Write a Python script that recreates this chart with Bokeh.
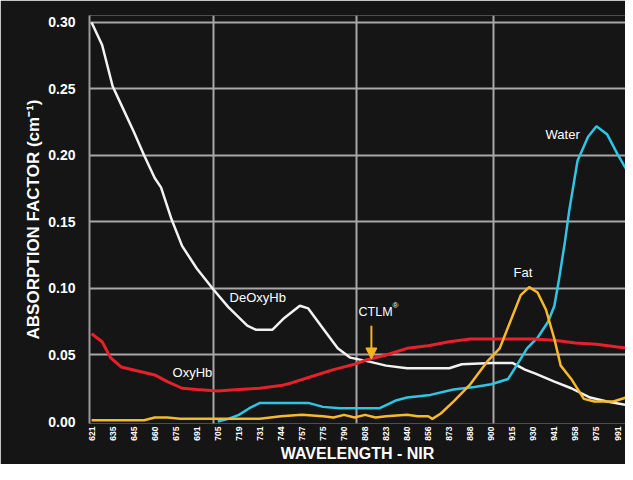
import numpy as np
from bokeh.plotting import figure
from bokeh.models import FixedTicker, Range1d, Arrow, NormalHead
from bokeh.core.properties import value
from bokeh.embed import file_html
from bokeh.resources import INLINE

# ---- axis categories (wavelength labels, evenly spaced on the axis) ----
tick_labels = ["621", "635", "645", "660", "675", "691", "705", "719", "731",
               "744", "757", "775", "790", "808", "823", "840", "856", "873",
               "888", "900", "915", "930", "941", "958", "975", "991"]
tick_pos = list(range(len(tick_labels)))
vgrid_pos = [5.8, 12.6, 19.1]
y_ticks = [0.0, 0.05, 0.10, 0.15, 0.20, 0.25, 0.30]

# ---- series (x in axis-label position units, y = absorption factor) ----
deoxy_pos = [0, 0.5, 1.0, 1.5, 2.0, 2.5, 3.0, 3.3, 3.8, 4.3, 5.0, 5.8, 6.5, 7.4,
             7.8, 8.6, 9.1, 9.9, 10.3, 11.0, 11.7, 12.3, 13.2, 14.0, 15.0, 16.0,
             17.0, 17.6, 19.0, 20.0, 20.6, 21.1, 22.0, 22.8, 23.7, 24.5, 25.6]
deoxy_val = [0.300, 0.283, 0.252, 0.235, 0.218, 0.200, 0.183, 0.176, 0.152,
             0.132, 0.115, 0.099, 0.086, 0.072, 0.069, 0.069, 0.077, 0.087,
             0.085, 0.070, 0.055, 0.048, 0.045, 0.042, 0.040, 0.040, 0.040,
             0.043, 0.044, 0.044, 0.039, 0.036, 0.030, 0.025, 0.018, 0.015,
             0.012]

oxy_pos = [0, 0.5, 0.9, 1.4, 2.2, 3.0, 3.6, 4.3, 5.0, 6.0, 7.0, 8.0, 9.0, 9.5,
           10.5, 11.5, 12.5, 13.0, 14.0, 15.0, 16.0, 17.0, 18.0, 19.0, 20.0,
           21.0, 22.0, 23.0, 24.0, 25.0, 25.7]
oxy_val = [0.066, 0.060, 0.048, 0.041, 0.038, 0.035, 0.030, 0.025, 0.024,
           0.023, 0.024, 0.025, 0.027, 0.029, 0.034, 0.039, 0.043, 0.046,
           0.050, 0.055, 0.057, 0.060, 0.062, 0.062, 0.062, 0.062, 0.061,
           0.059, 0.058, 0.056, 0.055]

water_pos = [6.0, 6.5, 7.0, 7.5, 8.0, 9.0, 10.3, 11.0, 11.8, 13.0, 13.7, 14.5,
             15.0, 16.1, 17.2, 18.2, 19.0, 19.8, 20.2, 20.7, 21.2, 21.7, 22.0,
             22.2, 22.5, 22.7, 23.1, 23.6, 24.0, 24.5, 25.0, 25.4, 25.7]
water_val = [0.000, 0.002, 0.005, 0.010, 0.014, 0.014, 0.014, 0.011, 0.010,
             0.010, 0.010, 0.016, 0.018, 0.020, 0.024, 0.026, 0.028, 0.032,
             0.042, 0.055, 0.063, 0.075, 0.087, 0.105, 0.135, 0.158, 0.196,
             0.214, 0.222, 0.216, 0.201, 0.190, 0.181]

fat_pos = [0, 2.5, 3.0, 3.6, 4.2, 6.0, 8.0, 9.0, 10.0, 11.0, 11.5, 12.0, 12.5,
           13.0, 13.5, 14.0, 15.0, 15.5, 16.0, 16.2, 16.6, 17.2, 18.0, 18.8,
           19.4, 19.9, 20.4, 20.8, 21.2, 21.6, 22.0, 22.3, 22.8, 23.4, 23.9,
           24.8, 25.6]
fat_val = [0.001, 0.001, 0.003, 0.003, 0.002, 0.002, 0.002, 0.004, 0.005,
           0.004, 0.003, 0.005, 0.003, 0.005, 0.003, 0.004, 0.005, 0.004,
           0.004, 0.002, 0.006, 0.015, 0.028, 0.045, 0.055, 0.075, 0.095,
           0.101, 0.097, 0.084, 0.062, 0.042, 0.032, 0.017, 0.015, 0.015,
           0.019]

BG = "#151515"
FONT = "Liberation Sans"

p = figure(width=625, height=464, output_backend="svg", toolbar_location=None,
           x_range=Range1d(-0.1, 25.38), y_range=Range1d(-0.0015, 0.3052),
           min_border_left=89, min_border_right=0, min_border_top=15,
           min_border_bottom=37)
p.background_fill_color = BG
p.border_fill_color = BG
p.outline_line_color = None

# grid
p.xgrid.ticker = FixedTicker(ticks=vgrid_pos)
p.ygrid.ticker = FixedTicker(ticks=y_ticks[1:])
for g in (p.xgrid, p.ygrid):
    g.grid_line_color = "#a8a8a8"
    g.grid_line_width = 2

# x axis
xa = p.xaxis[0]
xa.ticker = FixedTicker(ticks=tick_pos)
xa.major_label_overrides = {i: t for i, t in zip(tick_pos, tick_labels)}
xa.major_label_orientation = np.pi / 2
xa.major_label_text_font = FONT
xa.major_label_text_font_style = "bold"
xa.major_label_text_font_size = "8.5px"
xa.major_label_text_color = "white"
xa.major_label_standoff = 3
xa.major_tick_out = 0
xa.major_tick_in = 0
xa.minor_tick_line_color = None
xa.axis_line_color = None
xa.axis_label = "WAVELENGTH - NIR"
xa.axis_label_text_font = FONT
xa.axis_label_text_font_style = "bold"
xa.axis_label_text_font_size = "16px"
xa.axis_label_text_color = "white"
xa.axis_label_standoff = 1

# y axis
ya = p.yaxis[0]
ya.ticker = FixedTicker(ticks=y_ticks)
ya.major_label_overrides = {v: f"{v:.2f}" for v in y_ticks}
ya.major_label_text_font = FONT
ya.major_label_text_font_style = "bold"
ya.major_label_text_font_size = "14px"
ya.major_label_text_color = "white"
ya.major_label_standoff = 14
ya.major_tick_out = 0
ya.major_tick_in = 0
ya.minor_tick_line_color = None
ya.axis_line_color = "#9a9a9a"
ya.axis_line_width = 2
ya.axis_label = "ABSORPTION FACTOR (cm\u207b\u00b9)"
ya.axis_label_text_font = FONT
ya.axis_label_text_font_style = "bold"
ya.axis_label_text_font_size = "17px"
ya.axis_label_text_color = "white"
ya.axis_label_standoff = 2

# curves
p.line(deoxy_pos, deoxy_val, line_color="#f2f2f2", line_width=2.5)
p.line(water_pos, water_val, line_color="#2fc6e6", line_width=2.5)
p.line(oxy_pos, oxy_val, line_color="#e8202c", line_width=3)
p.line(fat_pos, fat_val, line_color="#f7b92a", line_width=2.5)

# labels
lbl_x = [6.56, 3.85, 20.06, 21.58]
lbl_y = [0.093, 0.037, 0.112, 0.216]
lbl_t = ["DeOxyHb", "OxyHb", "Fat", "Water"]
p.text(lbl_x, lbl_y, text=lbl_t, text_color="white", text_font=value(FONT),
       text_font_size="13px", text_baseline="middle", text_align="left")
p.text([12.69], [0.082], text=["CTLM"], text_color="white",
       text_font=value(FONT), text_font_size="12.5px", text_baseline="middle",
       text_align="left")
p.text([14.3], [0.087], text=["\u00ae"], text_color="white",
       text_font=value(FONT), text_font_size="8px", text_baseline="middle",
       text_align="left")

# CTLM arrow
orange = "#f5b320"
p.add_layout(Arrow(end=NormalHead(size=11, fill_color=orange, line_color=orange),
                   x_start=13.3, y_start=0.072, x_end=13.3, y_end=0.047,
                   line_color=orange, line_width=2))

open("out.html", "w").write(file_html(p, INLINE))
